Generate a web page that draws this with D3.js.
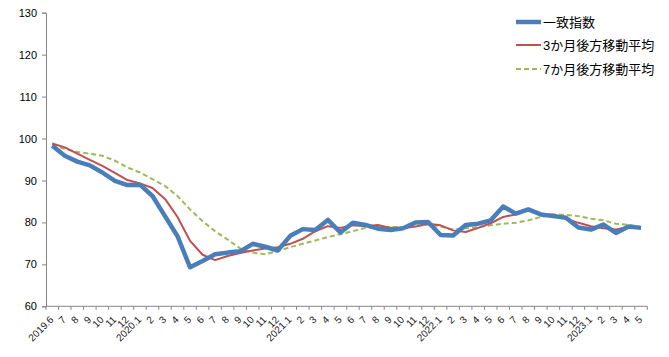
<!DOCTYPE html>
<html><head><meta charset="utf-8">
<script src="https://cdn.jsdelivr.net/npm/d3@7"></script>
<style>
body{margin:0;background:#fff;}
text{font-family:"Liberation Sans","Noto Sans CJK JP",sans-serif;}
</style></head>
<body><svg id="c" width="669" height="357"></svg>
<script>
const categories = ["2019.6","7","8","9","10","11","12","2020.1","2","3","4","5","6","7","8","9","10","11","12",
"2021.1","2","3","4","5","6","7","8","9","10","11","12",
"2022.1","2","3","4","5","6","7","8","9","10","11","12",
"2023.1","2","3","4","5"];
const coincident = [98.3,95.9,94.5,93.6,91.9,89.9,88.9,89.0,86.3,81.5,76.7,69.3,70.8,72.4,72.8,73.1,74.9,74.2,73.3,76.8,78.4,78.2,80.6,77.6,79.9,79.4,78.5,78.2,78.6,80.0,80.1,77.0,76.9,79.4,79.7,80.5,83.8,82.1,83.1,81.9,81.5,81.1,78.8,78.3,79.5,77.5,79.0,78.7];
const ma3 = [98.8,97.9,96.4,94.9,93.5,91.8,90.1,89.3,88.2,85.6,81.3,75.6,72.3,71.0,72.0,72.7,73.3,73.8,74.1,74.9,76.1,77.9,79.1,78.7,79.3,79.1,79.4,78.7,78.6,79.0,79.7,79.3,78.1,77.7,78.7,79.8,81.3,81.9,82.9,81.9,81.9,80.9,79.9,79.1,78.6,78.3,78.9,78.6];
const ma7 = [98.5,97.5,96.8,96.4,95.9,94.7,93.1,91.9,90.3,88.7,86.3,83.1,80.3,77.9,75.9,73.8,72.8,72.4,73.2,74.1,74.9,75.7,76.5,77.2,77.9,78.7,78.9,78.9,78.9,79.1,79.5,79.0,78.3,78.6,78.9,79.3,79.7,79.9,80.5,81.3,81.8,81.8,81.5,80.9,80.5,79.7,79.4,78.9];
const yTicks = [60,70,80,90,100,110,120,130];
const seriesNames = ["一致指数","3か月後方移動平均","7か月後方移動平均"];

const svg = d3.select("#c");
const x = d3.scaleBand().domain(d3.range(categories.length)).range([46,647.3]);
const y = d3.scaleLinear().domain([60,130]).range([306.3,12.7]);
const axisColor = "#868686";

// y axis
const ya = svg.append("g").attr("transform","translate(46,0)")
  .call(d3.axisLeft(y).tickValues(yTicks).tickSize(4).tickPadding(5));
ya.select(".domain").attr("stroke",axisColor);
ya.selectAll(".tick line").attr("stroke",axisColor);
ya.selectAll(".tick text").attr("font-size",11).attr("fill","#000");

// x axis
const xa = svg.append("g").attr("transform","translate(0,306.3)");
xa.append("line").attr("x1",46).attr("x2",647.3).attr("stroke",axisColor);
const bounds = d3.range(categories.length+1).map(i=> i<categories.length ? x(i) : x(i-1)+x.bandwidth());
xa.selectAll("line.t").data(bounds).join("line").attr("class","t")
  .attr("x1",d=>d).attr("x2",d=>d).attr("y1",0).attr("y2",3.5).attr("stroke",axisColor);
xa.selectAll("text").data(categories).join("text")
  .attr("transform",(d,i)=>`translate(${x(i)+x.bandwidth()/2-0.5},11.5) rotate(-45)`)
  .attr("text-anchor","end").attr("dy","0.35em")
  .attr("font-size",10).attr("fill","#222").text(d=>d);

const line = d3.line().x((d,i)=>x(i)+x.bandwidth()/2).y(d=>y(d));
svg.append("path").datum(ma7).attr("d",line).attr("fill","none")
  .attr("stroke","#9BBB59").attr("stroke-width",2).attr("stroke-dasharray","5,3");
svg.append("path").datum(ma3).attr("d",line).attr("fill","none")
  .attr("stroke","#C0504D").attr("stroke-width",2).attr("stroke-linejoin","round");
svg.append("path").datum(coincident).attr("d",line).attr("fill","none")
  .attr("stroke","#4A7EBB").attr("stroke-width",4.5).attr("stroke-linejoin","round");

// legend
const leg = [
  {name:seriesNames[0],color:"#4A7EBB",w:4.5,dash:null,y:22},
  {name:seriesNames[1],color:"#C0504D",w:2,dash:null,y:45},
  {name:seriesNames[2],color:"#9BBB59",w:2,dash:"5,3",y:69}
];
const lg = svg.append("g");
leg.forEach(l=>{
  lg.append("line").attr("x1",516).attr("x2",541).attr("y1",l.y).attr("y2",l.y)
    .attr("stroke",l.color).attr("stroke-width",l.w).attr("stroke-dasharray",l.dash);
  lg.append("text").attr("x",543).attr("y",l.y).attr("dy","0.36em")
    .attr("font-size",13).attr("fill","#000").text(l.name);
});
</script></body></html>
